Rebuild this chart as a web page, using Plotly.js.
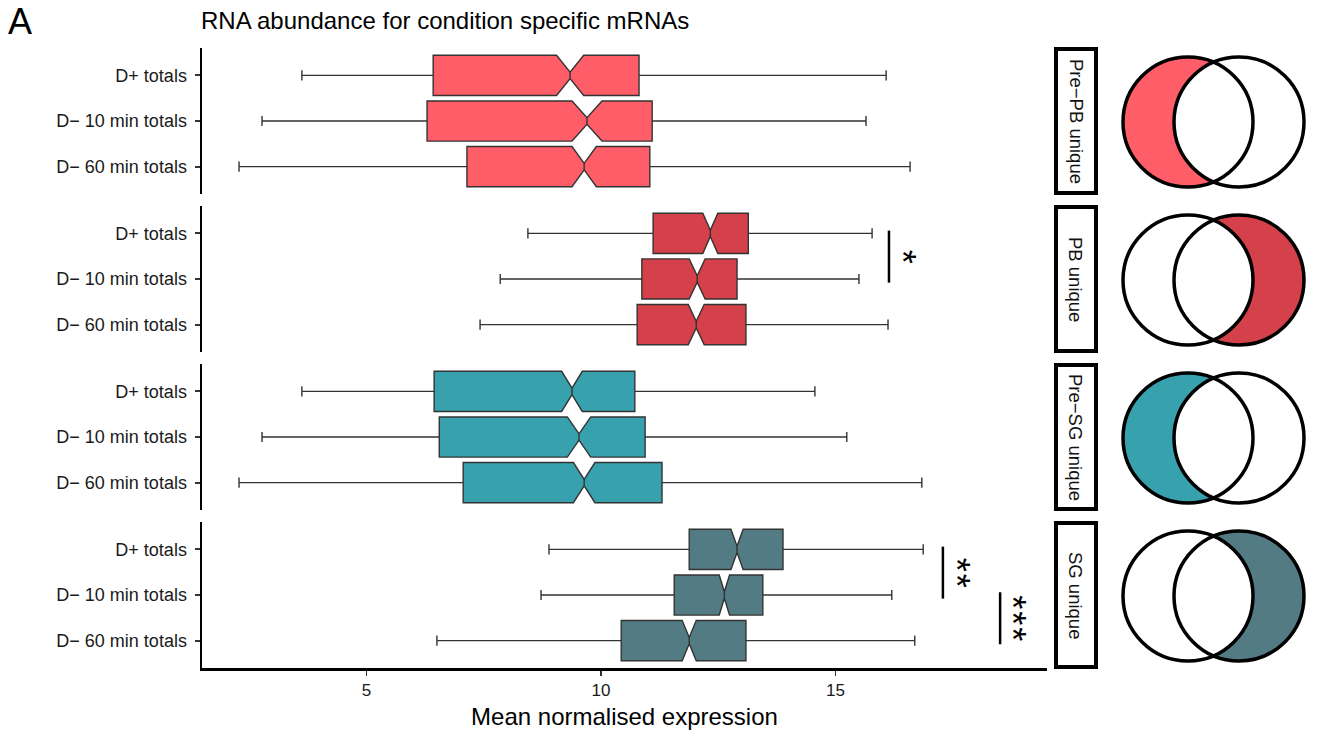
<!DOCTYPE html>
<html>
<head>
<meta charset="utf-8">
<script src="https://cdn.plot.ly/plotly-3.0.1.min.js"></script>
<style>html,body{margin:0;padding:0;background:#fff;}#chart{width:1319px;height:736px;}</style>
</head>
<body>
<div id="chart"></div>
<script>
// ---------------- data ----------------
const categories = ["D+ totals", "D\u2212 10 min totals", "D\u2212 60 min totals"];
const panelNames = ["Pre\u2212PB unique", "PB unique", "Pre\u2212SG unique", "SG unique"];
const panelColors = ["#FF5E68", "#D5414A", "#38A1AE", "#537B84"];
const vennFillSide = ["left", "right", "left", "right"];

const lowerFence = [
  [3.62, 2.77, 2.28],
  [8.44, 7.85, 7.42],
  [3.62, 2.77, 2.28],
  [8.89, 8.72, 6.50]
];
const q1Values = [
  [6.42, 6.29, 7.14],
  [11.11, 10.87, 10.77],
  [6.44, 6.55, 7.06],
  [11.88, 11.56, 10.43]
];
const medianValues = [
  [9.34, 9.70, 9.64],
  [12.33, 12.05, 12.03],
  [9.38, 9.53, 9.64],
  [12.90, 12.63, 11.88]
];
const q3Values = [
  [10.81, 11.09, 11.04],
  [13.14, 12.90, 13.09],
  [10.72, 10.94, 11.30],
  [13.88, 13.45, 13.09]
];
const upperFence = [
  [16.08, 15.65, 16.59],
  [15.78, 15.50, 16.12],
  [14.56, 15.24, 16.84],
  [16.87, 16.20, 16.69]
];
const notchSpans = [
  [0.29, 0.32, 0.26],
  [0.16, 0.17, 0.17],
  [0.22, 0.25, 0.23],
  [0.13, 0.11, 0.15]
];
// significance brackets: panel index, from/to category index, x position, label
const sigPanel = [1, 3, 3];
const sigFrom = [0, 0, 1];
const sigTo = [1, 1, 2];
const sigX = [16.14, 17.29, 18.51];
const sigStars = ["*", "**", "***"];
const xTicks = [5, 10, 15];

// ---------------- layout helpers ----------------
const W = 1319, H = 736;
const px = x => x / W;
const py = y => 1 - y / H;
const plotLeft = 202, plotRight = 1047;
const panelTops = [48, 206, 364, 522];
const panelH = 146;
const FONT = "Liberation Sans, Arial, sans-serif";

const data = [];
const layout = {
  width: W, height: H, autosize: false,
  margin: {l: 0, r: 0, t: 0, b: 0},
  paper_bgcolor: "#fff", plot_bgcolor: "#fff",
  showlegend: false,
  font: {family: FONT, color: "#1a1a1a"},
  title: {text: "RNA abundance for condition specific mRNAs", x: px(201), xanchor: "left", xref: "paper",
          y: py(21), yanchor: "middle", yref: "paper", font: {size: 24, color: "#000", family: FONT}},
  xaxis: {
    domain: [px(plotLeft), px(plotRight)], range: [1.49, 19.51], anchor: "y4",
    tickvals: xTicks, ticktext: xTicks.map(String), ticks: "outside", ticklen: 5, tickwidth: 1.5, tickcolor: "#333",
    showline: true, linecolor: "#000", linewidth: 2.5, showgrid: false, zeroline: false,
    tickfont: {size: 17, color: "#1a1a1a"},
    title: {text: "Mean normalised expression", font: {size: 24, color: "#000"}, standoff: 10}
  },
  shapes: [], annotations: []
};

for (let p = 0; p < 4; p++) {
  const yName = p === 0 ? "y" : "y" + (p + 1);
  const yKey = p === 0 ? "yaxis" : "yaxis" + (p + 1);
  const top = panelTops[p];
  layout[yKey] = {
    domain: [py(top + panelH), py(top)], anchor: "x",
    type: "category", categoryorder: "array", categoryarray: categories,
    range: [2.6, -0.6],
    ticks: "outside", ticklen: 5, tickwidth: 2, tickcolor: "#333",
    showline: true, linecolor: "#000", linewidth: 2.5, showgrid: false, zeroline: false,
    tickfont: {size: 18, color: "#1a1a1a"}, ticklabelstandoff: 4
  };
  data.push({
    type: "box", orientation: "h", xaxis: "x", yaxis: yName,
    y: categories, width: 0.88,
    lowerfence: lowerFence[p], q1: q1Values[p], median: medianValues[p],
    q3: q3Values[p], upperfence: upperFence[p],
    notched: true, notchspan: notchSpans[p], notchwidth: 0.42,
    whiskerwidth: 0.25, boxpoints: false,
    fillcolor: panelColors[p], line: {color: "#333", width: 1.4},
    hoverinfo: "x+y"
  });

  // strip
  layout.shapes.push({
    type: "rect", xref: "paper", yref: "paper",
    x0: px(1056), x1: px(1096), y0: py(top + 1), y1: py(top + panelH - 1),
    line: {color: "#000", width: 4}, fillcolor: "#fff", layer: "above"
  });
  layout.annotations.push({
    xref: "paper", yref: "paper", x: px(1076), y: py(top + panelH / 2),
    text: panelNames[p], textangle: 90, showarrow: false,
    font: {size: 18.5, color: "#111", family: FONT}, xanchor: "center", yanchor: "middle"
  });

  // venn diagram
  const cy = top + panelH / 2 + 1;
  const cL = 1188, cR = 1239, r = 65;
  const mid = (cL + cR) / 2;
  const th = Math.acos(((cR - cL) / 2) / r);
  const pts = [];
  const N = 80;
  for (let i = 0; i <= N; i++) {
    const a = th + (2 * Math.PI - 2 * th) * i / N;
    pts.push([cL + r * Math.cos(a), cy - r * Math.sin(a)]);
  }
  for (let i = 0; i <= N; i++) {
    const a = (Math.PI + th) - (2 * th) * i / N;
    pts.push([cR + r * Math.cos(a), cy - r * Math.sin(a)]);
  }
  const finalPts = vennFillSide[p] === "left" ? pts : pts.map(q => [2 * mid - q[0], q[1]]);
  const path = finalPts.map((q, i) => (i === 0 ? "M" : "L") + px(q[0]).toFixed(5) + "," + py(q[1]).toFixed(5)).join(" ") + " Z";
  layout.shapes.push({type: "path", xref: "paper", yref: "paper", path: path,
    fillcolor: panelColors[p], line: {width: 0}, layer: "above"});
  [cL, cR].forEach(c => {
    layout.shapes.push({type: "circle", xref: "paper", yref: "paper",
      x0: px(c - r), x1: px(c + r), y0: py(cy + r), y1: py(cy - r),
      line: {color: "#000", width: 3.5}, fillcolor: "rgba(0,0,0,0)", layer: "above"});
  });
}

// significance brackets
for (let s = 0; s < sigPanel.length; s++) {
  const p = sigPanel[s];
  const yName = p === 0 ? "y" : "y" + (p + 1);
  layout.shapes.push({type: "line", xref: "x", yref: yName,
    x0: sigX[s], x1: sigX[s], y0: sigFrom[s] - 0.06, y1: sigTo[s] + 0.08,
    line: {color: "#000", width: 2.5}});
  const n = sigStars[s].length;
  for (let k = 0; k < n; k++) {
    layout.annotations.push({xref: "x", yref: yName, x: sigX[s], y: (sigFrom[s] + sigTo[s]) / 2 + 0.01,
      text: "*", showarrow: false, textangle: 90, xanchor: "center", yanchor: "middle",
      xshift: 13, yshift: -((k - (n - 1) / 2) * 16),
      font: {size: 36, color: "#000", family: FONT}});
  }
}

// panel letter
layout.annotations.push({xref: "paper", yref: "paper", x: px(6), y: py(22), xanchor: "left", yanchor: "middle",
  text: "A", showarrow: false, font: {size: 36, color: "#000", family: FONT}});

Plotly.newPlot("chart", data, layout, {displayModeBar: false, staticPlot: true});
</script>
</body>
</html>
